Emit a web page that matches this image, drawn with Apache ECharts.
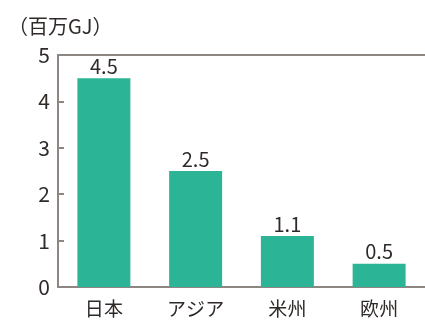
<!DOCTYPE html>
<html>
<head>
<meta charset="utf-8">
<script src="https://cdn.jsdelivr.net/npm/echarts@6/dist/echarts.min.js"></script>
<style>
html,body{margin:0;padding:0;background:#fff;}
#chart{width:425px;height:322px;}
</style>
</head>
<body>
<div id="chart"></div>
<script>
// Regional values, in millions of GJ
const categories = ['日本', 'アジア', '米州', '欧州'];
const values = [4.5, 2.5, 1.1, 0.5];
const yTicks = [0, 1, 2, 3, 4, 5];
const unitLabel = '（百万GJ）';

const axisColor = '#8d8683';
const textColor = '#2f2a28';
const barColor = '#2bb596';
const font = '"Noto Sans CJK JP", "Noto Sans", sans-serif';

const chart = echarts.init(document.getElementById('chart'));
chart.setOption({
  animation: false,
  title: {
    text: unitLabel,
    left: 3,
    top: 11,
    textStyle: { fontFamily: font, fontSize: 20, fontWeight: 'normal', color: textColor }
  },
  grid: { left: 58, right: -1, top: 55, bottom: 35 },
  xAxis: [{
    type: 'category',
    data: categories,
    axisLine: { lineStyle: { color: axisColor, width: 2 } },
    axisTick: { show: false },
    axisLabel: { fontFamily: font, fontSize: 19, color: textColor, margin: 12 }
  }, {
    type: 'category',
    position: 'top',
    data: categories,
    axisLine: { lineStyle: { color: axisColor, width: 2 } },
    axisTick: { show: false },
    axisLabel: { show: false }
  }],
  yAxis: {
    type: 'value',
    min: yTicks[0],
    max: yTicks[yTicks.length - 1],
    interval: 1,
    axisLine: { show: true, lineStyle: { color: axisColor, width: 2 } },
    axisTick: { show: true, inside: true, length: 6, lineStyle: { color: axisColor, width: 2 } },
    splitLine: { show: false },
    axisLabel: { fontFamily: font, fontSize: 21, color: textColor, margin: 8 }
  },
  series: [{
    type: 'bar',
    data: values,
    barWidth: 53,
    itemStyle: { color: barColor },
    label: {
      show: true,
      position: 'top',
      distance: 2,
      fontFamily: font,
      fontSize: 20,
      color: textColor,
      formatter: p => p.value.toFixed(1)
    }
  }]
});
</script>
</body>
</html>
